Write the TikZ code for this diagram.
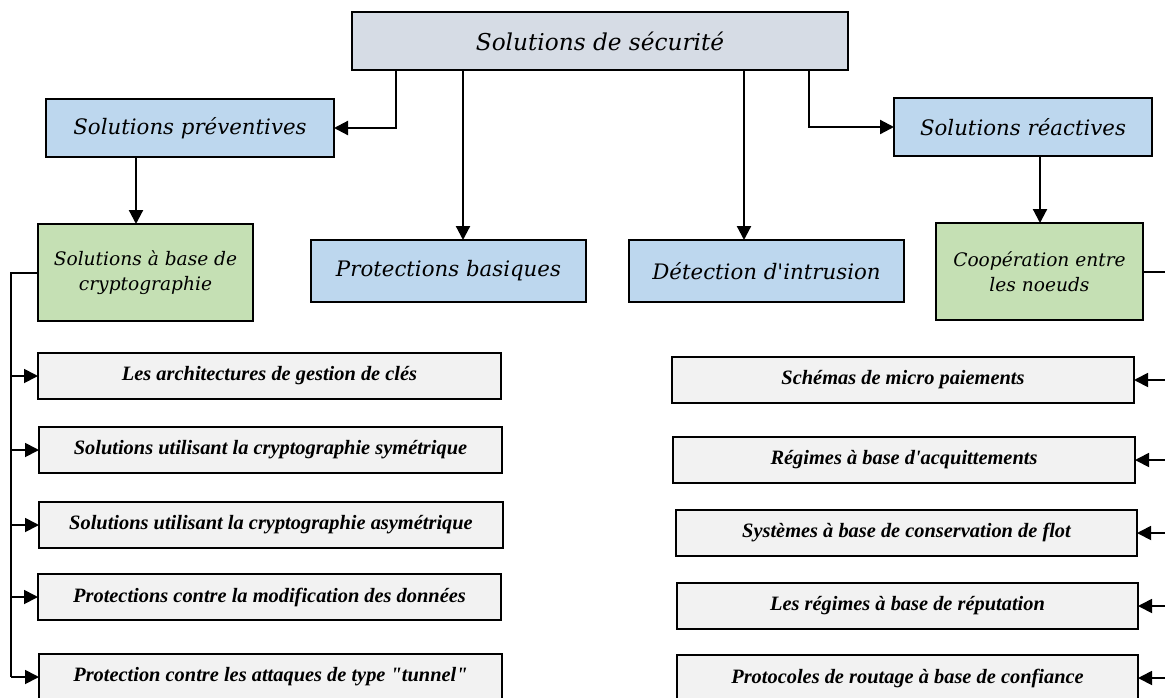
\documentclass[tikz,border=0pt]{standalone}
\usepackage{fontspec}
\setmainfont{DejaVu Serif}
\newfontfamily\headfont{DejaVu Serif}
\newfontfamily\listfont{Liberation Serif}
\usetikzlibrary{arrows.meta}
\definecolor{titlefill}{HTML}{D6DCE5}
\definecolor{bluefill}{HTML}{BDD7EE}
\definecolor{greenfill}{HTML}{C5E0B4}
\definecolor{listfill}{HTML}{F2F2F2}

\begin{document}
\begin{tikzpicture}[x=1pt,y=-1pt,
  box/.style={draw=black, line width=1.6pt, inner sep=0pt, outer sep=0pt,
    align=center, anchor=north west, text=black},
  titlebox/.style={box, fill=titlefill, minimum width=496pt, minimum height=58pt,
    font=\headfont\itshape\fontsize{23.2}{27}\selectfont},
  bluebox/.style={box, fill=bluefill, minimum height=58pt,
    font=\headfont\itshape\fontsize{21.3}{25}\selectfont},
  greenbox/.style={box, fill=greenfill, minimum height=97pt,
    font=\headfont\itshape\fontsize{18.6}{25}\selectfont},
  listbox/.style={box, fill=listfill, minimum height=46pt,
    font=\listfont\bfseries\itshape\fontsize{20.4}{24}\selectfont},
  arr/.style={line width=2.2pt, -{Triangle[length=14pt,width=14pt]}},
  buslink/.style={line width=1.8pt},
  busarr/.style={line width=1.8pt, -{Triangle[length=14pt,width=14pt]}}
]
\clip (0,0) rectangle (1165,697);

% top level
\node[titlebox] (title) at (352,12) {Solutions de sécurité};

% second level
\node[bluebox, minimum width=288pt] (prev) at (46,99) {Solutions préventives};
\node[bluebox, minimum width=258pt] (reac) at (894,98) {Solutions réactives};
\node[bluebox, minimum width=275pt, minimum height=62pt] (prot) at (311,240) {Protections basiques};
\node[bluebox, minimum width=275pt, minimum height=62pt] (detc) at (629,240) {Détection d'intrusion};

% third level
\node[greenbox, minimum width=215pt] (crypto) at (38,224) {Solutions à base de\\cryptographie};
\node[greenbox, minimum width=207pt] (coop) at (936,223) {Coopération entre\\les noeuds};

% preventive solutions
\node[listbox, minimum width=463pt] (l1) at (38,353) {Les architectures de gestion de clés};
\node[listbox, minimum width=463pt] (l2) at (39,427) {Solutions utilisant la cryptographie symétrique};
\node[listbox, minimum width=464pt] (l3) at (39,502) {Solutions utilisant la cryptographie asymétrique};
\node[listbox, minimum width=463pt] (l4) at (38,574) {Protections contre la modification des données};
\node[listbox, minimum width=463pt] (l5) at (39,654) {Protection contre les attaques de type "tunnel"};

% reactive solutions
\node[listbox, minimum width=462pt] (r1) at (672,357) {Schémas de micro paiements};
\node[listbox, minimum width=462pt] (r2) at (673,437) {Régimes à base d'acquittements};
\node[listbox, minimum width=461pt] (r3) at (676,510) {Systèmes à base de conservation de flot};
\node[listbox, minimum width=461pt] (r4) at (677,583) {Les régimes à base de réputation};
\node[listbox, minimum width=461pt] (r5) at (677,655) {Protocoles de routage à base de confiance};

% branch positions
\coordinate (bx1) at (396,0);
\coordinate (bx2) at (463,0);
\coordinate (bx3) at (744,0);
\coordinate (bx4) at (809,0);
\coordinate (bx5) at (136,0);
\coordinate (bx6) at (1040,0);
\coordinate (lbus) at (11,273);
\coordinate (rbus) at (1180,272);

% connectors from the title
\draw[arr] (title.south -| bx1) |- (prev.east);
\draw[arr] (title.south -| bx2) -- (prot.north -| bx2);
\draw[arr] (title.south -| bx3) -- (detc.north -| bx3);
\draw[arr] (title.south -| bx4) |- (reac.west);

% down to the third level
\draw[arr] (prev.south -| bx5) -- (crypto.north -| bx5);
\draw[arr] (reac.south -| bx6) -- (coop.north -| bx6);

% left bus
\draw[buslink] (crypto.west |- lbus) -- (lbus) -- (lbus |- l5.west);
\foreach \n in {l1,l2,l3,l4,l5}
  \draw[busarr] (lbus |- \n.west) -- (\n.west);

% right bus
\draw[buslink] (coop.east |- rbus) -- (rbus) -- (rbus |- r5.east);
\foreach \n in {r1,r2,r3,r4,r5}
  \draw[busarr] (rbus |- \n.east) -- (\n.east);
\end{tikzpicture}
\end{document}
